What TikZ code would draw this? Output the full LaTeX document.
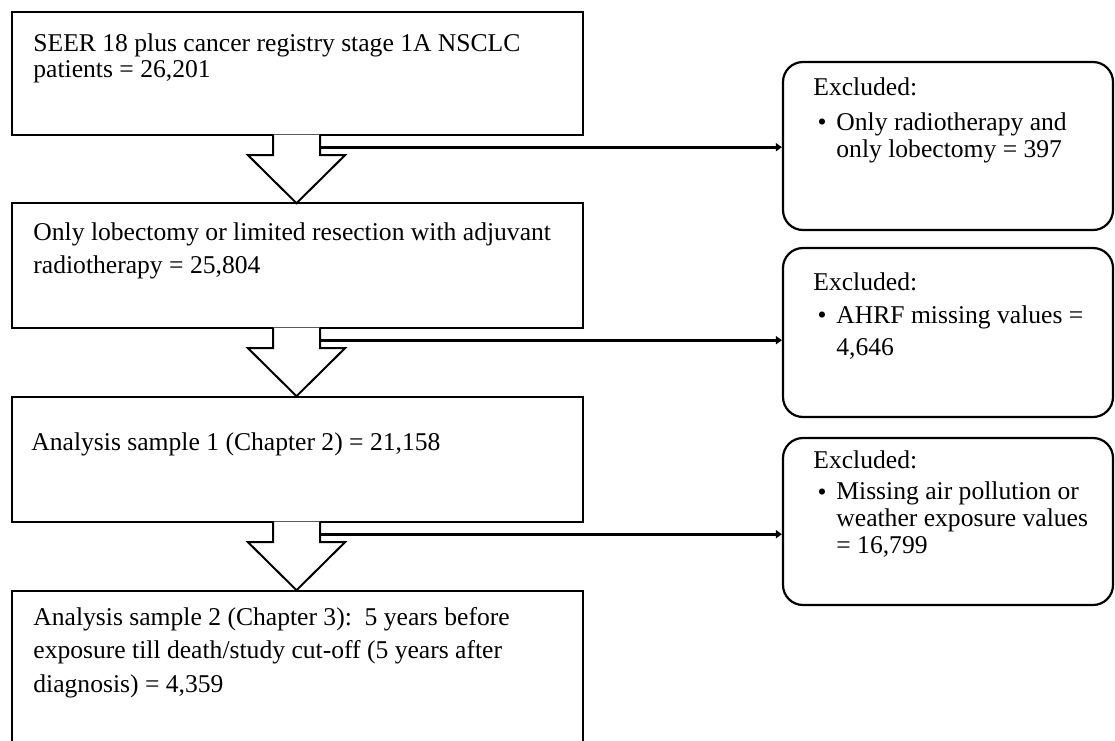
\documentclass[tikz,border=0pt]{standalone}
\usepackage{fontspec}
\setmainfont{Liberation Serif}
\usetikzlibrary{arrows.meta}

\tikzset{
  stagebox/.style={draw, line width=1.2pt, minimum width=285.5pt, inner sep=0pt},
  exclbox/.style={draw, line width=1.1pt, rounded corners=10pt, minimum width=165pt, minimum height=84pt, inner sep=0pt},
  txt/.style={inner sep=0pt, align=left, anchor=base west, font=\fontsize{12.8}{16.5}\selectfont},
  exarrow/.style={line width=1.6pt, -{Triangle[length=3pt,width=4pt]}},
  blockarrow/.style={fill=white, line width=1pt, line join=miter}
}

\begin{document}
\begin{tikzpicture}[x=0.5pt, y=-0.5pt]
\useasboundingbox (0,0) rectangle (1115,740);
\clip (0,0) rectangle (1115,740);

% stages
\node[stagebox, minimum height=61.5pt] (seer) at (297.5,73.5) {};
\node[stagebox, minimum height=62.5pt] (lobe) at (297.5,265.5) {};
\node[stagebox, minimum height=62.5pt] (sample1) at (297.5,459.5) {};
\node[stagebox, minimum height=90pt] (sample2) at (297.5,681) {};

% texts sit on the baseline of their last line
\node[txt, font=\fontsize{12.8}{13}\selectfont] (seertxt) at (33,77) {SEER 18 plus cancer registry stage 1A NSCLC\\patients = 26,201};
\node[txt] (lobetxt) at (33,273) {Only lobectomy or limited resection with adjuvant\\radiotherapy = 25,804};
\node[txt] (sample1txt) at (31,450) {Analysis sample 1 (Chapter 2) = 21,158};
\node[txt, font=\fontsize{12.8}{16.7}\selectfont] (sample2txt) at (33,692) {Analysis sample 2 (Chapter 3):\ \ 5 years before\\exposure till death/study cut-off (5 years after\\diagnosis) = 4,359};

% exclusions
\node[exclbox] (exA) at (948,146) {};
\node[exclbox, minimum height=84.5pt] (exB) at (948,332.5) {};
\node[exclbox, minimum height=83.5pt] (exC) at (948,521.5) {};

\node[txt] (exAhead) at (813,95) {Excluded:};
\node[txt, anchor=base] (exAdot) at (822,130) {\textbullet};
\node[txt, font=\fontsize{12.8}{13.5}\selectfont] (exAitem) at (836,157) {Only radiotherapy and\\only lobectomy = 397};

\node[txt] (exBhead) at (813,290) {Excluded:};
\node[txt, anchor=base] (exBdot) at (822,323) {\textbullet};
\node[txt, font=\fontsize{12.8}{16}\selectfont] (exBitem) at (836,355) {AHRF missing values =\\4,646};

\node[txt] (exChead) at (813,468) {Excluded:};
\node[txt, anchor=base] (exCdot) at (822,500) {\textbullet};
\node[txt, font=\fontsize{12.8}{13.3}\selectfont] (exCitem) at (836,553) {Missing air pollution or\\weather exposure values\\= 16,799};

% block arrows and exclusion arrows
\foreach \a/\ex in {seer/exA, lobe/exB, sample1/exC}{
  \filldraw[blockarrow] ([shift={(-24.5,-1.5)}]\a.south) -- ++(0,20.5) -- ++(-25,0) -- ++(48.5,48) -- ++(48.5,-48) -- ++(-25,0) -- ++(0,-20.5);
  \coordinate (out) at ([shift={(22.5,11)}]\a.south);
  \draw[exarrow] (out) -- (out -| \ex.west);
}
\end{tikzpicture}
\end{document}
